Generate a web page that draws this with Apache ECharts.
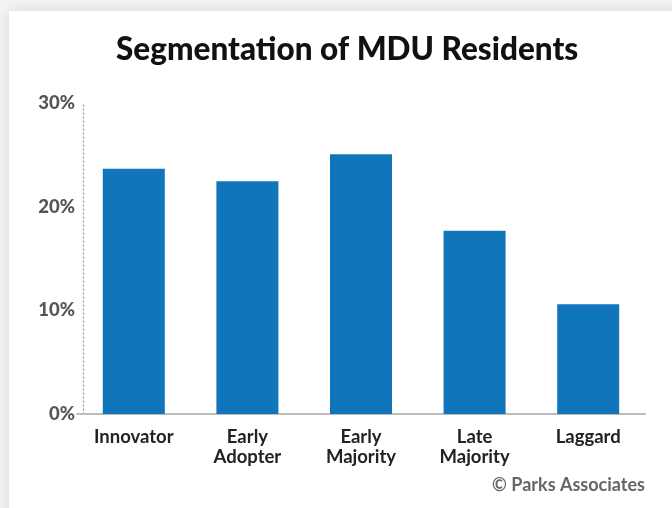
<!DOCTYPE html>
<html>
<head>
<meta charset="utf-8">
<script src="https://cdn.jsdelivr.net/npm/echarts@6/dist/echarts.min.js"></script>
<style>
html,body{margin:0;padding:0;background:#f4f4f4;}
#chart{width:672px;height:508px;}
</style>
</head>
<body>
<div id="chart"></div>
<script>
var categories = ['Innovator', 'Early\nAdopter', 'Early\nMajority', 'Late\nMajority', 'Laggard'];
var shares = [23.7, 22.5, 25.1, 17.7, 10.6];
var yTicks = [0, 10, 20, 30];

var chart = echarts.init(document.getElementById('chart'));
chart.setOption({
  animation: false,
  backgroundColor: 'transparent',
  graphic: [
    {type: 'rect', z: -10, shape: {x: 9, y: 11, width: 700, height: 600},
     style: {fill: '#ffffff', shadowBlur: 14, shadowColor: 'rgba(0,0,0,0.12)'}},
    {type: 'text', right: 27, top: 476, z: 10,
     style: {text: '\u00a9 Parks Associates', fill: '#666', font: 'bold 18px Lato', textAlign: 'right'}}
  ],
  title: {
    text: 'Segmentation of MDU Residents',
    left: 111, top: 29,
    textStyle: {fontFamily: 'Lato', fontWeight: 900, fontSize: 31.5, color: '#111'}
  },
  grid: {left: 77, right: 27, top: 103.5, bottom: 94, containLabel: false},
  xAxis: {
    type: 'category', data: categories,
    axisLine: {show: true, lineStyle: {color: '#bcbcbc', width: 2}},
    axisTick: {show: false},
    axisLabel: {color: '#222', fontFamily: 'Lato', fontWeight: 'bold', fontSize: 18.5, lineHeight: 20, margin: 13, interval: 0}
  },
  yAxis: {
    type: 'value', min: 0, max: 30, interval: 10, offset: -6,
    axisLine: {show: true, lineStyle: {color: '#888', type: [1, 3], width: 1.2}},
    axisTick: {show: false},
    splitLine: {show: false},
    axisLabel: {color: '#555', fontFamily: 'Lato', fontWeight: 900, fontSize: 18.5, margin: 8,
      formatter: function (v) { return yTicks.indexOf(v) >= 0 ? v + '%' : ''; }}
  },
  series: [{
    type: 'bar', data: shares, barWidth: 62,
    itemStyle: {color: '#1175bb'}
  }]
});
</script>
</body>
</html>
